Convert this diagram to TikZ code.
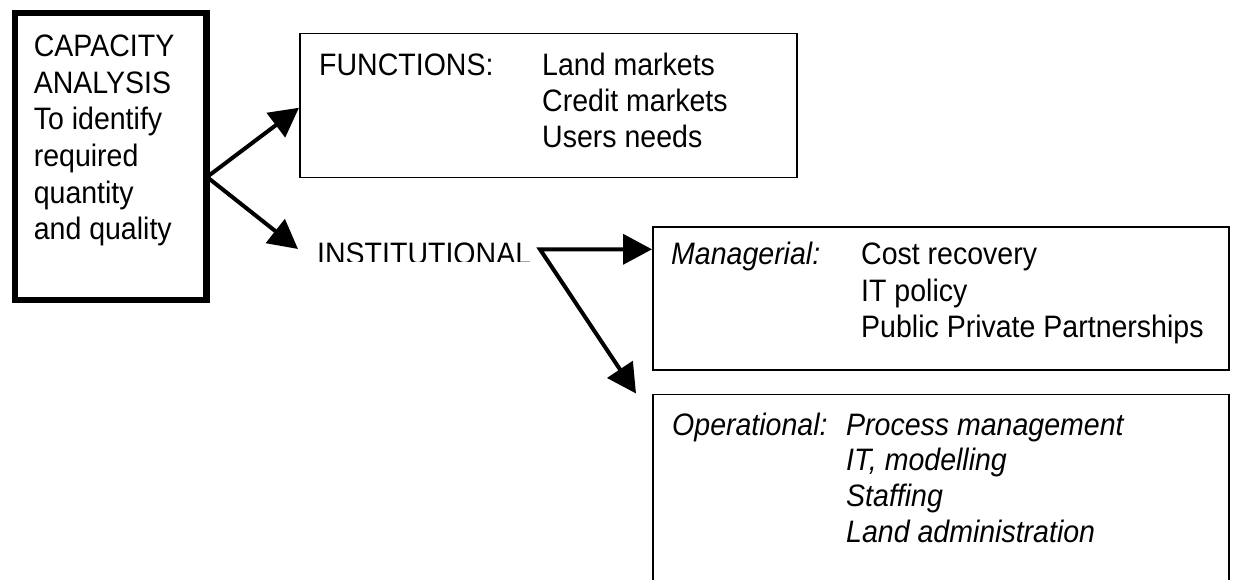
\documentclass[tikz,border=0pt]{standalone}
\usepackage{fontspec}
\setmainfont[FakeStretch=0.92]{Liberation Sans}
\usetikzlibrary{arrows.meta}
\begin{document}
\begin{tikzpicture}[x=1pt,y=-1pt,
  txt/.style={anchor=base west, inner sep=0pt, font=\fontsize{31}{36}\selectfont},
  itxt/.style={txt, font=\fontsize{31}{36}\selectfont\itshape},
  thinbox/.style={draw, line width=1.5pt, inner sep=0pt, anchor=north west},
  thickbox/.style={draw, line width=6.5pt, inner sep=0pt, anchor=north west},
  arr/.style={line width=4pt, <->, >={Triangle[length=29pt,width=30pt]}}]
\clip (0,0) rectangle (1234,580);
\fill[white] (0,0) rectangle (1234,580);
% boxes
\node[thickbox, minimum width=191.5pt, minimum height=286.5pt] (cap) at (11.5,10) {};
\node[thinbox, minimum width=497pt, minimum height=144pt] (fun) at (299,33) {};
\node[thinbox, minimum width=576pt, minimum height=142.5pt] (man) at (652,226.5) {};
\node[thinbox, minimum width=576pt, minimum height=230pt] (op) at (652,393.5) {};
% left box text
\node[txt] (c1) at (33.6,56.7) {CAPACITY};
\node[txt] (c2) at (33.6,93.3) {ANALYSIS};
\node[txt] (c3) at (33.6,130) {To identify};
\node[txt] (c4) at (33.6,166.7) {required};
\node[txt] (c5) at (33.6,203.3) {quantity};
\node[txt] (c6) at (33.6,240) {and quality};
% functions
\node[txt] (f0) at (319,76) {FUNCTIONS:};
\node[txt] (f1) at (542,76) {Land markets};
\node[txt] (f2) at (542,112) {Credit markets};
\node[txt] (f3) at (542,147.5) {Users needs};
% institutional (clipped at the bottom)
\begin{scope}
\clip (300,230) rectangle (545,261.8);
\node[txt] (inst) at (317,264.5) {INSTITUTIONAL};
\end{scope}
% managerial
\node[itxt] (m0) at (671,265) {Managerial:};
\node[txt] (m1) at (861,265) {Cost recovery};
\node[txt] (m2) at (861,301) {IT policy};
\node[txt] (m3) at (861,337.5) {Public Private Partnerships};
% operational
\node[itxt] (o0) at (672,435) {Operational:};
\node[itxt] (o1) at (846,435) {Process management};
\node[itxt] (o2) at (846,470.5) {IT, modelling};
\node[itxt] (o3) at (846,506.5) {Staffing};
\node[itxt] (o4) at (846,542.5) {Land administration};
% connectors
\coordinate (v1) at (207,177);
\coordinate (v2) at (540,249.3);
\coordinate (a1) at ([yshift=-2pt]fun.west);
\coordinate (a2) at ([xshift=-19pt,yshift=15.5pt]inst.base west);
\coordinate (a4) at ([xshift=-16pt]op.north west);
\draw[arr] (a1) -- (v1) -- (a2);
\draw[arr] (v2 -| man.west) -- (v2) -- (a4);
\end{tikzpicture}
\end{document}
